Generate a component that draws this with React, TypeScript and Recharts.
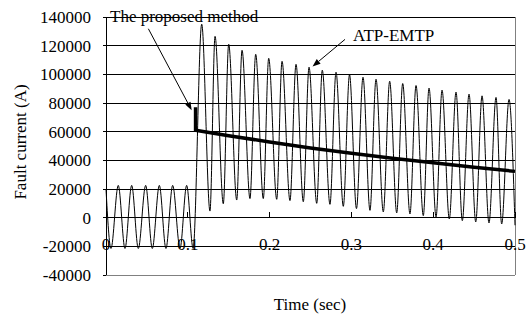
import React from "react";
import {
  LineChart,
  Line,
  XAxis,
  YAxis,
  CartesianGrid,
  ReferenceLine,
} from "recharts";

// ATP-EMTP fault current, read peak by peak / trough by trough from the picture
const ATP_TIME = [
  0, 0.0061, 0.015, 0.0232, 0.0314, 0.0395, 0.0485, 0.0566, 0.0652, 0.0733,
  0.0815, 0.0905, 0.0986, 0.1065,
  0.117, 0.1271, 0.1333, 0.1434, 0.15, 0.1598, 0.1663, 0.176, 0.183, 0.1923,
  0.1989, 0.2087, 0.2152, 0.2249, 0.2323, 0.2412, 0.2482, 0.2576, 0.2644,
  0.2738, 0.2812, 0.2901, 0.2977, 0.3062, 0.3142, 0.3227, 0.3301, 0.339,
  0.3468, 0.3554, 0.3627, 0.3716, 0.379, 0.3879, 0.3949, 0.4035, 0.4108,
  0.4197, 0.4279, 0.4356, 0.4438, 0.452, 0.4597, 0.4682, 0.4768, 0.4837,
  0.4927, 0.5,
];
const ATP_CURRENT = [
  20000, -21500, 22500, -21500, 22500, -21500, 22500, -21500, 22500, -21500,
  22500, -21500, 22500, -21500,
  135000, 4600, 126500, 9700, 121000, 12300, 116800, 13300, 114000, 13300,
  111200, 12800, 109100, 11900, 107000, 11100, 105000, 10000, 102900,
  9300, 101500, 7900, 99800, 6300, 98000, 5100, 96600, 4000,
  95200, 3300, 93600, 2600, 92200, 1400, 90400, 500, 89000,
  -900, 87600, -2100, 86200, -3000, 85000, -3700, 83900, -4400,
  82500, -5300,
];

// proposed method (thick line)
const PROP_TIME = [0.1095, 0.1095, 0.15, 0.2, 0.25, 0.3, 0.35, 0.4, 0.45, 0.5];
const PROP_CURRENT = [77000, 61000, 57200, 52800, 48600, 45000, 41500, 38300, 35200, 32300];

const X_TICKS = [0, 0.1, 0.2, 0.3, 0.4, 0.5];
const Y_TICKS = [-40000, -20000, 0, 20000, 40000, 60000, 80000, 100000, 120000, 140000];

const atpData = ATP_TIME.map((t, i) => ({ t, i: ATP_CURRENT[i] }));
const propData = PROP_TIME.map((t, i) => ({ t, i: PROP_CURRENT[i] }));

const FONT = "'Liberation Serif', 'Times New Roman', serif";

const XTick = (props: any) => {
  const { x, y, payload } = props;
  return (
    <text
      x={x}
      y={y - 31}
      textAnchor="middle"
      dominantBaseline="central"
      fontFamily={FONT}
      fontSize={17}
      fill="#000"
    >
      {payload.value}
    </text>
  );
};

const arrow = (props: any) => {
  const { x1, y1, x2, y2 } = props;
  const a = Math.atan2(y2 - y1, x2 - x1);
  const len = 8;
  const w = 3;
  const bx = x2 - len * Math.cos(a);
  const by = y2 - len * Math.sin(a);
  const p1 = `${bx + w * Math.sin(a)},${by - w * Math.cos(a)}`;
  const p2 = `${bx - w * Math.sin(a)},${by + w * Math.cos(a)}`;
  return (
    <g>
      <line x1={x1} y1={y1} x2={bx} y2={by} stroke="#000" strokeWidth={1} />
      <polygon points={`${x2},${y2} ${p1} ${p2}`} fill="#000" />
    </g>
  );
};

export default function App() {
  return (
    <div style={{ position: "absolute", left: 0, top: 0, background: "#fff" }}>
      <LineChart
        width={529}
        height={320}
        margin={{ top: 17, right: 14, bottom: 0, left: 0 }}
      >
        <CartesianGrid
          vertical={false}
          stroke="#000"
          strokeWidth={1}
          shapeRendering="crispEdges"
        />
        <XAxis
          type="number"
          dataKey="t"
          domain={[0, 0.5]}
          ticks={X_TICKS}
          height={45}
          axisLine={false}
          tickLine={false}
          tickSize={0}
          tickMargin={0}
          tick={<XTick />}
        />
        <YAxis
          type="number"
          domain={[-40000, 140000]}
          ticks={Y_TICKS}
          width={106}
          axisLine={{ stroke: "#000", shapeRendering: "crispEdges" }}
          tickLine={{ stroke: "#000", shapeRendering: "crispEdges" }}
          tickSize={3}
          tickMargin={12}
          tick={{ fill: "#000", fontFamily: FONT, fontSize: 17 }}
        />
        <ReferenceLine x={0.5} stroke="#808080" shapeRendering="crispEdges" />
        <ReferenceLine y={-40000} stroke="#808080" shapeRendering="crispEdges" />
        {X_TICKS.slice(1).map((t) => (
          <ReferenceLine
            key={t}
            segment={[
              { x: t, y: 0 },
              { x: t, y: 4000 },
            ]}
            stroke="#000"
            shapeRendering="crispEdges"
          />
        ))}
        <Line
          data={atpData}
          dataKey="i"
          type="monotone"
          stroke="#000"
          strokeWidth={1}
          dot={false}
          activeDot={false}
          isAnimationActive={false}
        />
        <Line
          data={propData}
          dataKey="i"
          type="linear"
          stroke="#000"
          strokeWidth={3.5}
          dot={false}
          activeDot={false}
          isAnimationActive={false}
        />
        <ReferenceLine
          segment={[
            { x: 0.0518, y: 131800 },
            { x: 0.1047, y: 75000 },
          ]}
          shape={arrow}
        />
        <ReferenceLine
          segment={[
            { x: 0.2922, y: 124400 },
            { x: 0.2525, y: 105500 },
          ]}
          shape={arrow}
        />
        <text x={110} y={22} fontFamily={FONT} fontSize={17} fill="#000">
          The proposed method
        </text>
        <text x={353} y={41} fontFamily={FONT} fontSize={17} fill="#000">
          ATP-EMTP
        </text>
        <text
          x={20}
          y={142}
          transform="rotate(-90, 20, 142)"
          textAnchor="middle"
          dominantBaseline="central"
          fontFamily={FONT}
          fontSize={17}
          fill="#000"
        >
          Fault current (A)
        </text>
        <text
          x={310}
          y={304}
          textAnchor="middle"
          dominantBaseline="central"
          fontFamily={FONT}
          fontSize={17}
          fill="#000"
        >
          Time (sec)
        </text>
      </LineChart>
    </div>
  );
}
